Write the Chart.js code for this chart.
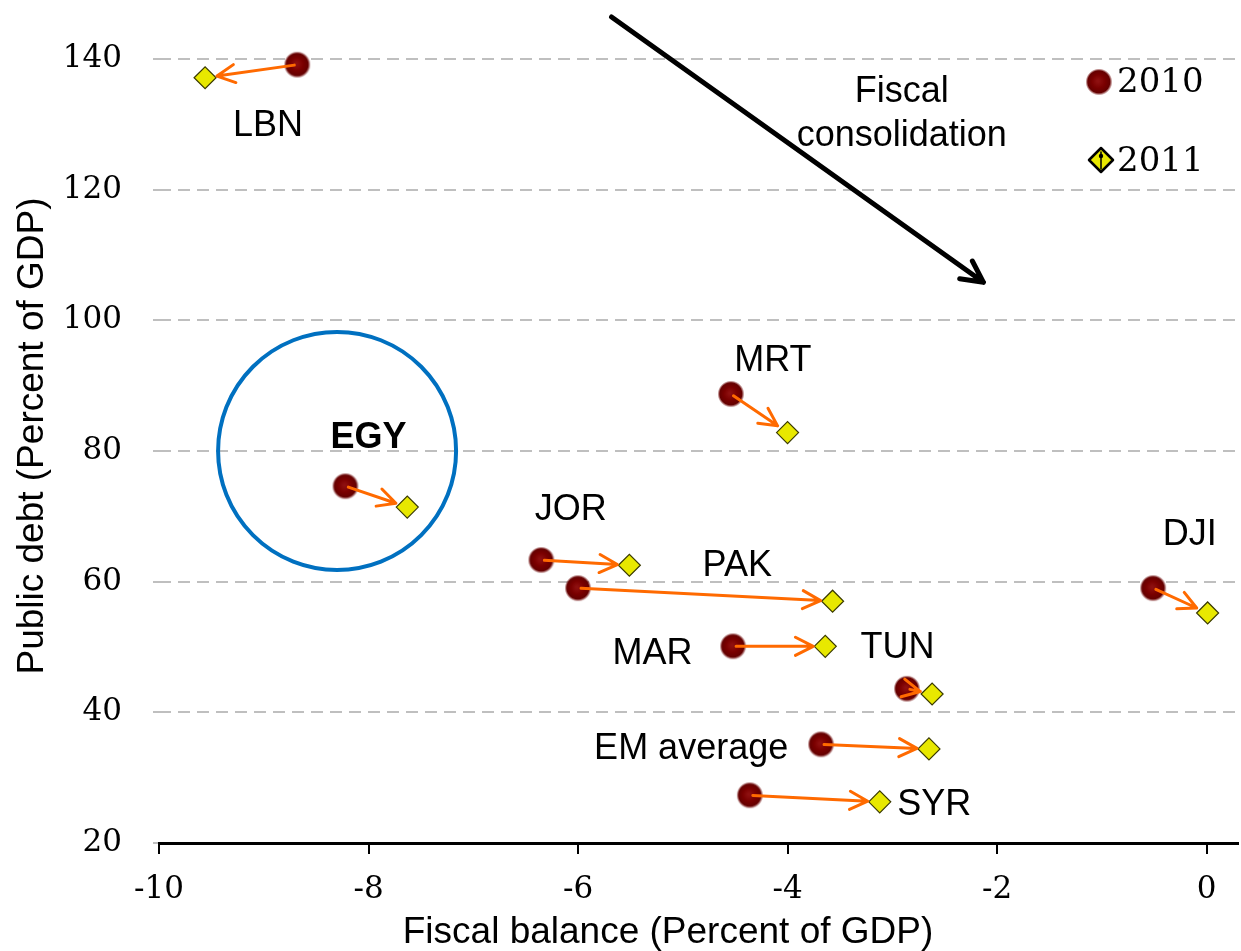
<!DOCTYPE html>
<html>
<head>
<meta charset="utf-8">
<script src="https://cdn.jsdelivr.net/npm/chart.js@4/dist/chart.umd.min.js"></script>
<style>html,body{margin:0;padding:0;background:#fff;}</style>
</head>
<body>
<canvas id="grafico" width="1241" height="951"></canvas>
<script>
// datos
const paises = ['LBN','EGY','MRT','JOR','PAK','MAR','TUN','EM average','SYR','DJI'];
const saldo2010 = [-8.68,-8.22,-4.54,-6.35,-6.00,-4.52,-2.86,-3.68,-4.36,-0.51];
const deuda2010 = [139.1,74.6,88.7,63.3,59.0,50.1,43.6,35.1,27.3,59.0];
const saldo2011 = [-9.56,-7.63,-4.00,-5.51,-3.57,-3.64,-2.62,-2.65,-3.12,0.01];
const deuda2011 = [137.1,71.4,82.8,62.5,57.0,50.1,42.8,34.4,26.3,55.2];
const ticksX = [-10,-8,-6,-4,-2,0];
const ticksY = [20,40,60,80,100,120,140];
const anios = ['2010','2011'];

// donde va cada nombre (unidades de los ejes)
const posEtiqueta = [[-8.96,129.7],[-8.00,82.0],[-4.14,93.8],[-6.07,71.0],[-4.48,62.4],
                     [-5.29,48.9],[-2.95,49.8],[-4.92,34.4],[-2.60,25.8],[-0.16,67.1]];

// bolita roja con degradado
function bolita(){
  let c = document.createElement('canvas');
  c.width = 28; c.height = 28;
  let g = c.getContext('2d');
  let grad = g.createRadialGradient(13,13,1,14,14,13.5);
  grad.addColorStop(0,'#8e1010');
  grad.addColorStop(0.45,'#7a0000');
  grad.addColorStop(0.8,'#650000');
  grad.addColorStop(1,'rgba(110,0,0,0)');
  g.fillStyle = grad;
  g.beginPath(); g.arc(14,14,13.5,0,Math.PI*2); g.fill();
  return c;
}
const imgBolita = bolita();

function flecha(ctx, x1, y1, x2, y2, largo, ang){
  let a = Math.atan2(y2-y1, x2-x1);
  ctx.beginPath();
  ctx.moveTo(x1,y1); ctx.lineTo(x2,y2);
  ctx.moveTo(x2 - largo*Math.cos(a-ang), y2 - largo*Math.sin(a-ang));
  ctx.lineTo(x2,y2);
  ctx.lineTo(x2 - largo*Math.cos(a+ang), y2 - largo*Math.sin(a+ang));
  ctx.stroke();
}

const extras = {
  id: 'extras',
  afterDatasetsDraw(chart){
    const ctx = chart.ctx, sx = chart.scales.x, sy = chart.scales.y, area = chart.chartArea;
    ctx.save();
    ctx.lineCap = 'round';
    ctx.lineJoin = 'round';

    // circulo azul de Egipto
    ctx.strokeStyle = '#0070C0';
    ctx.lineWidth = 4;
    ctx.beginPath();
    ctx.arc(sx.getPixelForValue(-8.30), sy.getPixelForValue(80.0), 119, 0, Math.PI*2);
    ctx.stroke();

    // flechas naranjas 2010 -> 2011
    ctx.strokeStyle = '#FF6A00';
    ctx.lineWidth = 3;
    for (let i = 0; i < paises.length; i++){
      let x1 = sx.getPixelForValue(saldo2010[i]), y1 = sy.getPixelForValue(deuda2010[i]);
      let x2 = sx.getPixelForValue(saldo2011[i]), y2 = sy.getPixelForValue(deuda2011[i]);
      let d = Math.hypot(x2-x1, y2-y1);
      let ux = (x2-x1)/d, uy = (y2-y1)/d;
      flecha(ctx, x1+ux*3, y1+uy*3, x2-ux*12, y2-uy*12, 20, 0.47);
    }

    // flecha negra de consolidacion
    ctx.strokeStyle = '#000';
    ctx.lineWidth = 5;
    flecha(ctx, sx.getPixelForValue(-5.68), sy.getPixelForValue(146.4),
           sx.getPixelForValue(-2.13), sy.getPixelForValue(105.8), 24, 0.47);

    // textos
    ctx.fillStyle = '#000';
    ctx.textAlign = 'center';
    ctx.textBaseline = 'alphabetic';
    ctx.font = '36px "Liberation Sans", Arial, sans-serif';
    ctx.fillText('Fiscal', sx.getPixelForValue(-2.91), sy.getPixelForValue(133.4));
    ctx.fillText('consolidation', sx.getPixelForValue(-2.91), sy.getPixelForValue(126.7));

    ctx.textBaseline = 'middle';
    for (let i = 0; i < paises.length; i++){
      ctx.font = (paises[i]=='EGY' ? 'bold ' : '') + '36px "Liberation Sans", Arial, sans-serif';
      ctx.fillText(paises[i], sx.getPixelForValue(posEtiqueta[i][0]), sy.getPixelForValue(posEtiqueta[i][1]));
    }

    // leyenda
    let lx = area.right - 139;
    ctx.drawImage(imgBolita, lx - 14, 82 - 14);
    ctx.beginPath();
    ctx.moveTo(lx + 2 - 12, 160); ctx.lineTo(lx + 2, 148); ctx.lineTo(lx + 2 + 12, 160); ctx.lineTo(lx + 2, 172);
    ctx.closePath();
    ctx.fillStyle = '#E8E800'; ctx.fill();
    ctx.strokeStyle = '#000'; ctx.lineWidth = 2.5; ctx.stroke();
    ctx.beginPath(); ctx.moveTo(lx+2, 152); ctx.lineTo(lx+2, 169); ctx.lineWidth = 1.5; ctx.stroke();
    ctx.beginPath(); ctx.arc(lx+2, 156, 2.2, 0, Math.PI*2); ctx.fillStyle = '#000'; ctx.fill();
    ctx.textAlign = 'left';
    ctx.font = '34px "DejaVu Serif", serif';
    ctx.fillText(anios[0], lx + 18, 83);
    ctx.fillText(anios[1], lx + 18, 162);

    // titulos de ejes
    ctx.font = '37px "Liberation Sans", Arial, sans-serif';
    ctx.textAlign = 'center';
    ctx.fillText('Fiscal balance (Percent of GDP)', 668, 933);
    ctx.translate(33, 436);
    ctx.rotate(-Math.PI/2);
    ctx.fillText('Public debt (Percent of GDP)', 0, 0);
    ctx.restore();
  }
};

const ctx = document.getElementById('grafico').getContext('2d');
const chart = new Chart(ctx, {
  type: 'scatter',
  data: {
    datasets: [{
      label: anios[0],
      data: saldo2010.map((v,i) => ({x: v, y: deuda2010[i]})),
      pointStyle: imgBolita,
      pointRadius: 13
    },{
      label: anios[1],
      data: saldo2011.map((v,i) => ({x: v, y: deuda2011[i]})),
      pointStyle: 'rectRot',
      pointRadius: 11,
      backgroundColor: '#E8E800',
      borderColor: '#3a3a00',
      borderWidth: 1.2
    }]
  },
  options: {
    responsive: false,
    animation: false,
    events: [],
    layout: { autoPadding: false, padding: { left: 0, right: 3, top: 0, bottom: 0 } },
    plugins: { legend: { display: false }, tooltip: { enabled: false } },
    scales: {
      x: {
        type: 'linear',
        min: -10, max: 0.3,
        afterBuildTicks: s => { s.ticks = ticksX.map(v => ({value: v})); },
        afterFit: s => { s.height = 108; s.paddingLeft = 0; s.paddingRight = 0; },
        ticks: { font: { family: 'DejaVu Serif', size: 31 }, color: '#000', padding: 17, maxRotation: 0 },
        grid: { drawOnChartArea: false, drawTicks: true, tickLength: 11, color: '#000', lineWidth: 2 },
        border: { display: true, color: '#000', width: 3 }
      },
      y: {
        type: 'linear',
        min: 20, max: 149,
        afterBuildTicks: s => { s.ticks = ticksY.map(v => ({value: v})); },
        afterFit: s => { s.width = 159; s.paddingTop = 0; s.paddingBottom = 0; },
        ticks: { font: { family: 'DejaVu Serif', size: 31 }, color: '#000', padding: 31 },
        grid: { color: '#BFBFBF', lineWidth: 2, tickLength: 6 },
        border: { display: false, dash: [12, 7] }
      }
    }
  },
  plugins: [extras]
});
</script>
</body>
</html>
